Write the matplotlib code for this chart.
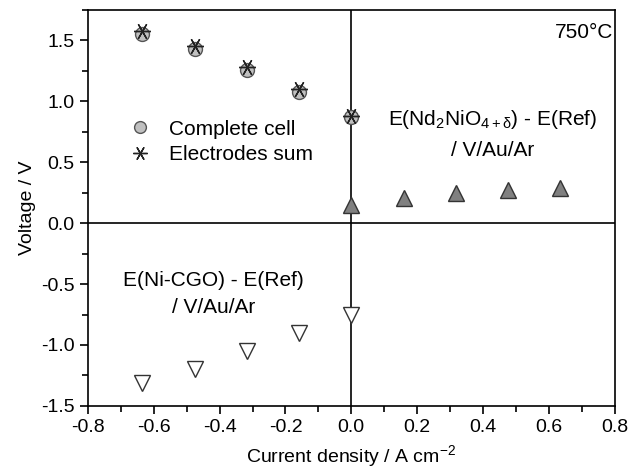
import matplotlib
matplotlib.use("Agg")
import matplotlib.pyplot as plt
from matplotlib.ticker import MultipleLocator

plt.rcParams['font.family'] = ['Liberation Sans', 'DejaVu Sans']
plt.rcParams['axes.unicode_minus'] = False
plt.rcParams['mathtext.fontset'] = 'custom'
plt.rcParams['mathtext.rm'] = 'Liberation Sans'
plt.rcParams['mathtext.it'] = 'Liberation Sans'

# current densities (A cm-2)
j_neg = [-0.635, -0.476, -0.317, -0.159, 0.0]
j_pos = [0.0, 0.159, 0.317, 0.476, 0.635]

# voltages (V)
complete_cell = [1.55, 1.43, 1.26, 1.08, 0.87]
electrodes_sum = [1.58, 1.45, 1.28, 1.10, 0.88]
cathode = [0.15, 0.21, 0.25, 0.27, 0.29]      # E(Nd2NiO4+d) - E(Ref)
anode = [-1.31, -1.20, -1.05, -0.90, -0.75]   # E(Ni-CGO) - E(Ref)

fig = plt.figure(figsize=(6.37, 4.72), dpi=100)
ax = fig.add_axes([0.138, 0.14, 0.827, 0.839])

ax.axhline(0, color='black', lw=1.2, zorder=1)
ax.axvline(0, color='black', lw=1.2, zorder=1)

ax.plot(j_neg, complete_cell, 'o', ms=10, mfc='#c0c0c0', mec='#555555', mew=1,
        label='Complete cell', zorder=3)
ax.plot(j_neg, electrodes_sum, marker=(6, 2, 90), ls='none', ms=12, mec='#222222',
        mew=1, label='Electrodes sum', zorder=4)
ax.plot(j_pos, cathode, '^', ms=11, mfc='#808080', mec='#333333', mew=1, zorder=3)
ax.plot(j_neg, anode, 'v', ms=12, mfc='white', mec='#333333', mew=1, zorder=3)

ax.set_xlim(-0.8, 0.8)
ax.set_ylim(-1.5, 1.75)
ax.xaxis.set_major_locator(MultipleLocator(0.2))
ax.xaxis.set_minor_locator(MultipleLocator(0.1))
ax.yaxis.set_major_locator(MultipleLocator(0.5))
ax.yaxis.set_minor_locator(MultipleLocator(0.25))
ax.tick_params(which='major', direction='out', length=6, width=1.2, labelsize=14)
ax.tick_params(which='minor', direction='out', length=4, width=1.2)
for s in ax.spines.values():
    s.set_linewidth(1.2)

ax.set_xlabel('Current density / A cm$^{-2}$', fontsize=14, labelpad=5)
ax.set_ylabel('Voltage / V', fontsize=14, labelpad=4)

handles, labels = ax.get_legend_handles_labels()
ax.legend(handles, labels, loc='upper left', bbox_to_anchor=(0.04, 0.77),
          frameon=False, fontsize=15, handletextpad=0.8, labelspacing=0.3,
          handlelength=1.2, markerscale=0.85)

ax.text(0.795, 1.565, '750°C', ha='right', va='center', fontsize=15)
ax.text(0.43, 0.85, 'E(Nd$_2$NiO$_{4+\\delta}$) - E(Ref)', ha='center', va='center', fontsize=15)
ax.text(0.43, 0.6, '/ V/Au/Ar', ha='center', va='center', fontsize=15)
ax.text(-0.418, -0.47, 'E(Ni-CGO) - E(Ref)', ha='center', va='center', fontsize=15)
ax.text(-0.418, -0.69, '/ V/Au/Ar', ha='center', va='center', fontsize=15)

fig.savefig('out.png', dpi=100)
